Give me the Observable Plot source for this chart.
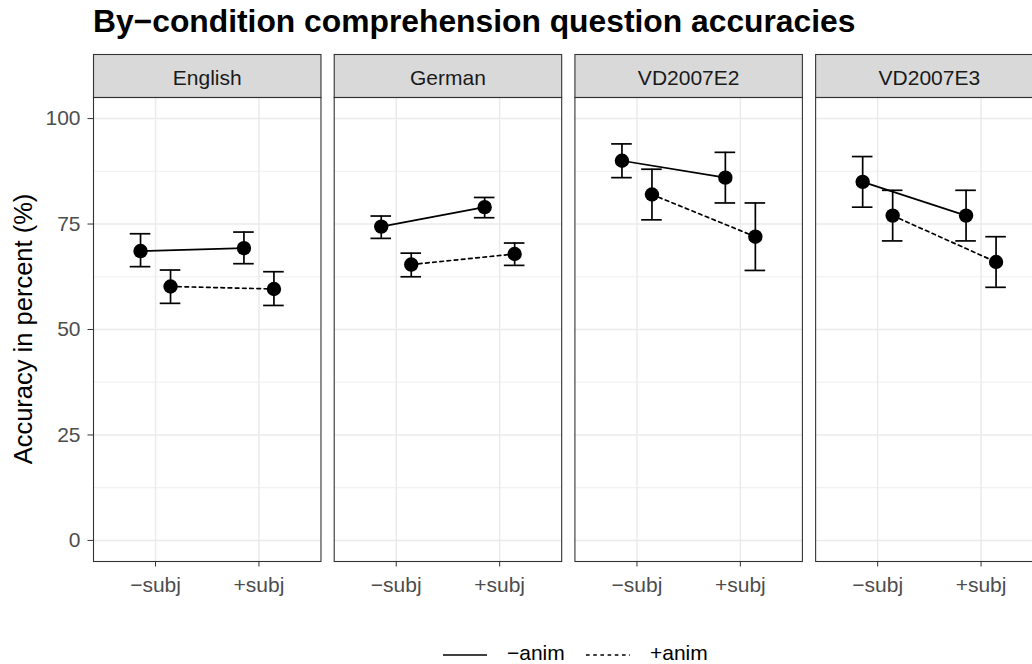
<!DOCTYPE html>
<html>
<head>
<meta charset="utf-8">
<script src="https://cdn.jsdelivr.net/npm/d3@7"></script>
<script src="https://cdn.jsdelivr.net/npm/@observablehq/plot@0.6"></script>
<style>
  html, body { margin: 0; padding: 0; background: white; }
  #wrap { position: relative; width: 1032px; height: 664px; overflow: hidden; background: white; font-family: "Liberation Sans", Arial, sans-serif; }
  #title { position: absolute; left: 93px; top: 5.5px; font-size: 31.8px; line-height: 31.8px; font-weight: bold; color: #000; white-space: nowrap; }
  #chart { position: absolute; left: 0; top: 48px; width: 1060px; }
  #chart svg { max-width: none !important; }
  #overlay { position: absolute; left: 0; top: 0; pointer-events: none; }
</style>
</head>
<body>
<div id="wrap">
  <div id="title">By−condition comprehension question accuracies</div>
  <div id="chart"></div>
  <svg id="overlay" width="1032" height="664"></svg>
</div>
<script>
// ---- data ----
const languages = ["English", "German", "VD2007E2", "VD2007E3"];
const subjLevels = ["−subj", "+subj"];
const animLevels = ["−anim", "+anim"];
// per language: [−subj, +subj]
const meanMinusAnim  = [[68.6, 69.3], [74.4, 79.0], [90.0, 86.0], [85.0, 77.0]];
const lowerMinusAnim = [[64.9, 65.6], [71.6, 76.5], [86.0, 80.0], [79.0, 71.0]];
const upperMinusAnim = [[72.7, 73.1], [76.9, 81.3], [94.0, 92.0], [91.0, 83.0]];
const meanPlusAnim   = [[60.2, 59.6], [65.4, 67.9], [82.0, 72.0], [77.0, 66.0]];
const lowerPlusAnim  = [[56.2, 55.7], [62.5, 65.2], [76.0, 64.0], [71.0, 60.0]];
const upperPlusAnim  = [[64.1, 63.7], [68.1, 70.5], [88.0, 80.0], [83.0, 72.0]];
const yMajorTicks = [0, 25, 50, 75, 100];
const yMinorTicks = [12.5, 37.5, 62.5, 87.5];
const yLabel = "Accuracy in percent (%)";

// ---- table built from the arrays ----
function buildRows(anim, means, lowers, uppers) {
  const rows = [];
  languages.forEach((lang, i) => {
    subjLevels.forEach((subj, j) => {
      rows.push({lang, subj, anim, mean: means[i][j], lower: lowers[i][j], upper: uppers[i][j]});
    });
  });
  return rows;
}
const rowsMinus = buildRows(animLevels[0], meanMinusAnim, lowerMinusAnim, upperMinusAnim);
const rowsPlus  = buildRows(animLevels[1], meanPlusAnim, lowerPlusAnim, upperPlusAnim);

// ---- styles ----
const dodge = 15;
const capInset = 41.4;
const lw = 1.7;
const dash = "3.6,3.6";
const fs = 21;
const series = [
  {rows: rowsMinus, dx: -dodge, dash: null},
  {rows: rowsPlus,  dx: dodge,  dash: dash}
];

const marks = [
  Plot.gridY(yMinorTicks, {stroke: "#ebebeb", strokeOpacity: 1, strokeWidth: 0.8}),
  Plot.gridY(yMajorTicks, {stroke: "#ebebeb", strokeOpacity: 1, strokeWidth: 1.5}),
  Plot.gridX({stroke: "#ebebeb", strokeOpacity: 1, strokeWidth: 1.5}),
  // strip
  Plot.frame({fill: "#d9d9d9", stroke: "#333333", strokeWidth: 1.1, insetTop: -43, insetBottom: 464}),
  Plot.text(languages, {fx: d => d, text: d => d, frameAnchor: "top", dy: -27, fontSize: fs, fill: "#1a1a1a"})
];
for (const s of series) {
  marks.push(
    Plot.ruleX(s.rows, {fx: "lang", x: "subj", y1: "lower", y2: "upper", dx: s.dx, stroke: "black", strokeWidth: lw}),
    Plot.tickY(s.rows, {fx: "lang", x: "subj", y: "lower", dx: s.dx, insetLeft: capInset, insetRight: capInset, stroke: "black", strokeWidth: lw}),
    Plot.tickY(s.rows, {fx: "lang", x: "subj", y: "upper", dx: s.dx, insetLeft: capInset, insetRight: capInset, stroke: "black", strokeWidth: lw}),
    Plot.line(s.rows, {fx: "lang", x: "subj", y: "mean", dx: s.dx, stroke: "black", strokeWidth: lw, strokeDasharray: s.dash}),
    Plot.dot(s.rows, {fx: "lang", x: "subj", y: "mean", dx: s.dx, r: 7.2, fill: "black", stroke: "none"})
  );
}
marks.push(
  Plot.frame({stroke: "#333333", strokeWidth: 1.1}),
  Plot.axisY(yMajorTicks, {anchor: "left", tickSize: 5.5, tickPadding: 7.5, fontSize: fs, stroke: "#333333", fill: "#4d4d4d", label: null}),
  Plot.axisX({anchor: "bottom", tickSize: 5.5, tickPadding: 10, fontSize: fs, stroke: "#333333", fill: "#4d4d4d", label: null})
);

const chart = Plot.plot({
  width: 1052,
  height: 563,
  marginLeft: 93,
  marginRight: 9.4,
  marginTop: 49,
  marginBottom: 50,
  style: {fontFamily: "Liberation Sans, Arial, sans-serif", background: "transparent", overflow: "visible", maxWidth: "none"},
  fx: {domain: languages, paddingInner: 0.055, paddingOuter: 0, round: false, axis: null, label: null},
  x: {type: "band", domain: subjLevels, paddingInner: 0, paddingOuter: 0.1, round: false, axis: null, label: null},
  y: {domain: [-5, 105], axis: null, label: null},
  marks
});
chart.style.maxWidth = "none";
chart.setAttribute("width", 1052);
chart.style.width = "1052px";
chart.style.height = "563px";
document.getElementById("chart").appendChild(chart);

// ---- y-axis title and legend (text overlay) ----
const ov = d3.select("#overlay");
ov.append("text")
  .attr("transform", "translate(31.5,329) rotate(-90)")
  .attr("text-anchor", "middle")
  .attr("font-size", 25.5)
  .attr("fill", "#000")
  .attr("font-family", "Liberation Sans, Arial, sans-serif")
  .text(yLabel);

const legendItems = [
  {label: animLevels[0], x: 443, dash: null},
  {label: animLevels[1], x: 586, dash: dash}
];
for (const it of legendItems) {
  ov.append("line")
    .attr("x1", it.x).attr("x2", it.x + 44).attr("y1", 655).attr("y2", 655)
    .attr("stroke", "black").attr("stroke-width", lw)
    .attr("stroke-dasharray", it.dash);
  ov.append("text")
    .attr("x", it.x + 64).attr("y", 659.5)
    .attr("font-size", fs).attr("fill", "#000")
    .attr("font-family", "Liberation Sans, Arial, sans-serif")
    .text(it.label);
}
</script>
</body>
</html>
